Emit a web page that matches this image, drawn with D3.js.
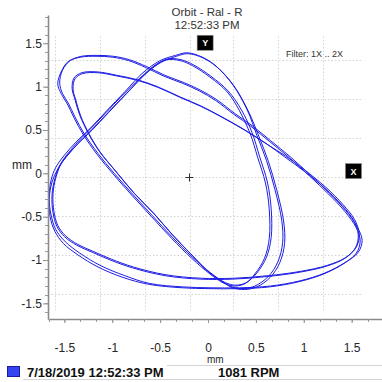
<!DOCTYPE html>
<html><head><meta charset="utf-8">
<script src="https://cdn.jsdelivr.net/npm/d3@7"></script>
<style>
html,body{margin:0;padding:0;background:#fff;}
svg{display:block;font-family:"Liberation Sans",Arial,sans-serif;}
</style></head><body>
<svg id="chart" width="382" height="382"></svg>
<script>
// ---- chart content -------------------------------------------------------
const titleLines = ["Orbit - Ral - R", "12:52:33 PM"];
const filterText = "Filter: 1X .. 2X";
const axisUnit = "mm";
const xTicks = [-1.5, -1, -0.5, 0, 0.5, 1, 1.5];
const yTicks = [-1.5, -1, -0.5, 0, 0.5, 1, 1.5];
const xTickLabels = ["-1.5", "-1", "-0.5", "0", "0.5", "1", "1.5"];
const yTickLabels = ["-1.5", "-1", "-0.5", "0", "0.5", "1", "1.5"];
const legendDate = "7/18/2019 12:52:33 PM";
const legendSpeed = "1081 RPM";

// probe markers (mm) and orbit centre cross (mm)
const probeLabels = ["Y", "X"];
const probeX = [-0.03, 1.52];
const probeY = [1.5, 0.02];
const centreX = -0.2;
const centreY = -0.04;

// reference grid around the orbit centre (mm)
const gridX = [-1.60, -1.13, -0.66, -0.19, 0.265, 0.735, 1.205];
const gridY = [1.307, 0.863, 0.413, -0.043, -0.492, -0.942, -1.392];

// filtered orbit samples (mm), four consecutive revolutions
const revAX = [-1.55,-1.52,-1.44,-1.32,-1.16,-0.99,-0.82,-0.64,-0.45,-0.26,
  -0.08,0.09,0.28,0.46,0.65,0.86,1.07,1.27,1.44,1.56,
  1.61,1.57,1.43,1.22,0.96,0.65,0.33,0.02,-0.26,-0.61,
  -0.87,-1.13,-1.34,-1.49,-1.59,-1.64,-1.66,-1.64,-1.59,-1.50,
  -1.38,-1.23,-1.06,-0.87,-0.68,-0.50,-0.34,-0.22,-0.06,0.09,
  0.26,0.41,0.51,0.61,0.70,0.77,0.78,0.73,0.63,0.49,
  0.37,0.25,0.14,0.00,-0.18,-0.38,-0.57,-0.78,-0.97,-1.14,
  -1.25,-1.34,-1.39,-1.42,-1.40,-1.32,-1.16,-0.95,-0.74,-0.53,
  -0.29,-0.08,0.13,0.37,0.60];
const revAY = [1.04,1.19,1.30,1.35,1.36,1.35,1.31,1.23,1.13,1.05,
  0.96,0.85,0.69,0.55,0.38,0.19,-0.02,-0.23,-0.43,-0.62,
  -0.77,-0.91,-1.03,-1.15,-1.24,-1.30,-1.32,-1.32,-1.31,-1.27,
  -1.18,-1.06,-0.92,-0.79,-0.65,-0.48,-0.28,-0.08,0.07,0.21,
  0.36,0.52,0.72,0.94,1.16,1.30,1.36,1.39,1.34,1.23,
  1.02,0.73,0.44,0.15,-0.19,-0.54,-0.80,-1.02,-1.19,-1.30,
  -1.33,-1.31,-1.24,-1.13,-0.93,-0.70,-0.46,-0.22,0.03,0.26,
  0.46,0.67,0.85,0.98,1.10,1.16,1.17,1.13,1.08,1.00,
  0.88,0.78,0.66,0.51,0.35];
const revBX = [0.80,1.01,1.22,1.40,1.52,1.57,1.54,1.43,1.24,0.96,
  0.62,0.26,-0.08,-0.45,-0.79,-1.02,-1.21,-1.37,-1.50,-1.58,
  -1.62,-1.63,-1.60,-1.54,-1.44,-1.32,-1.16,-0.99,-0.84,-0.68,
  -0.55,-0.43,-0.29,-0.16,0.02,0.20,0.33,0.44,0.52,0.60,
  0.64,0.64,0.59,0.49,0.39,0.28,0.17,0.02,-0.17,-0.38,
  -0.59,-0.79,-0.99,-1.16,-1.30,-1.40,-1.47,-1.53];
const revBY = [0.19,0.02,-0.17,-0.37,-0.54,-0.71,-0.86,-0.98,-1.07,-1.14,
  -1.19,-1.22,-1.22,-1.18,-1.09,-1.00,-0.91,-0.83,-0.73,-0.61,
  -0.45,-0.25,-0.06,0.11,0.26,0.41,0.59,0.79,0.96,1.13,
  1.25,1.31,1.30,1.24,1.11,0.94,0.72,0.46,0.18,-0.11,
  -0.42,-0.75,-0.98,-1.16,-1.27,-1.30,-1.27,-1.16,-0.98,-0.75,
  -0.50,-0.26,-0.01,0.22,0.44,0.64,0.80,0.91];
const revCX = [-1.57,-1.53,-1.46,-1.33,-1.17,-1.00,-0.83,-0.65,-0.46,-0.27,
  -0.09,0.08,0.27,0.45,0.64,0.85,1.06,1.26,1.43,1.55,
  1.59,1.55,1.42,1.21,0.95,0.64,0.32,0.01,-0.27,-0.62,
  -0.89,-1.15,-1.36,-1.51,-1.60,-1.65,-1.66,-1.63,-1.57,-1.48,
  -1.36,-1.21,-1.04,-0.85,-0.66,-0.49,-0.33,-0.21,-0.05,0.10,
  0.27,0.42,0.53,0.63,0.72,0.79,0.80,0.75,0.65,0.51,
  0.38,0.26,0.15,0.01,-0.17,-0.37,-0.56,-0.77,-0.96,-1.13,
  -1.24,-1.33,-1.38,-1.41,-1.39,-1.31,-1.15,-0.94,-0.73,-0.52,
  -0.28,-0.07,0.14,0.38,0.61];
const revCY = [1.03,1.18,1.29,1.34,1.35,1.34,1.30,1.22,1.12,1.04,
  0.95,0.84,0.68,0.54,0.37,0.18,-0.03,-0.24,-0.44,-0.63,
  -0.78,-0.92,-1.04,-1.16,-1.25,-1.31,-1.33,-1.33,-1.32,-1.28,
  -1.20,-1.08,-0.94,-0.81,-0.67,-0.50,-0.30,-0.10,0.05,0.19,
  0.34,0.50,0.70,0.92,1.14,1.28,1.35,1.38,1.33,1.22,
  1.01,0.72,0.43,0.14,-0.20,-0.55,-0.81,-1.03,-1.20,-1.31,
  -1.34,-1.32,-1.25,-1.14,-0.94,-0.71,-0.47,-0.23,0.02,0.25,
  0.45,0.66,0.84,0.97,1.09,1.15,1.16,1.12,1.07,0.99,
  0.87,0.77,0.65,0.50,0.34];
const revDX = [0.81,1.02,1.23,1.41,1.53,1.58,1.55,1.44,1.25,0.97,
  0.63,0.27,-0.07,-0.44,-0.78,-1.01,-1.20,-1.36,-1.49,-1.57,
  -1.61,-1.62,-1.59,-1.53,-1.42,-1.29,-1.13,-0.96,-0.81,-0.66,
  -0.53,-0.42,-0.28,-0.15,0.03,0.21,0.35,0.46,0.54,0.62,
  0.66,0.66,0.61,0.51,0.40,0.29,0.18,0.03,-0.16,-0.37,
  -0.58,-0.78,-0.98,-1.15,-1.29,-1.39,-1.46,-1.52];
const revDY = [0.20,0.03,-0.16,-0.36,-0.53,-0.70,-0.85,-0.97,-1.06,-1.13,
  -1.18,-1.21,-1.21,-1.17,-1.08,-0.99,-0.90,-0.82,-0.72,-0.60,
  -0.44,-0.24,-0.05,0.12,0.27,0.42,0.60,0.80,0.97,1.14,
  1.26,1.32,1.31,1.25,1.12,0.95,0.73,0.47,0.19,-0.10,
  -0.41,-0.74,-0.97,-1.15,-1.26,-1.29,-1.26,-1.15,-0.97,-0.74,
  -0.49,-0.25,0.00,0.23,0.45,0.65,0.81,0.92];

// ---- drawing -------------------------------------------------------------
const svg = d3.select("#chart");
const plot = {left: 48, right: 382, top: 15, bottom: 319};

const x = d3.scaleLinear().domain([-1.672, 1.818]).range([plot.left, plot.right]);
const y = d3.scaleLinear().domain([-1.68, 1.826]).range([plot.bottom, plot.top]);

const inkDark = "#262626";
const orbitBlue = "#1c1ce6";

// title
svg.selectAll("text.title").data(titleLines).join("text")
  .attr("class", "title")
  .attr("x", 207).attr("y", (d, i) => 16 + i * 13)
  .attr("text-anchor", "middle")
  .attr("font-size", 11.5).attr("fill", "#333")
  .text(d => d);

// dotted reference grid
const grid = svg.append("g").attr("stroke", "#d2d2d2").attr("stroke-width", 1)
  .attr("stroke-dasharray", "1.5,2");
grid.selectAll("line.v").data(gridX).join("line").attr("class", "v")
  .attr("x1", d => Math.round(x(d)) + 0.5).attr("x2", d => Math.round(x(d)) + 0.5)
  .attr("y1", y(1.58)).attr("y2", y(-1.58));
grid.selectAll("line.h").data(gridY).join("line").attr("class", "h")
  .attr("y1", d => Math.round(y(d)) + 0.5).attr("y2", d => Math.round(y(d)) + 0.5)
  .attr("x1", plot.left).attr("x2", x(1.62));

// filter note
svg.append("text").attr("x", 286).attr("y", 57)
  .attr("font-size", 9).attr("fill", "#333").text(filterText);

// orbit trace (all revolutions joined, closed)
const orbitXs = [].concat(revAX, revBX, revCX, revDX);
const orbitYs = [].concat(revAY, revBY, revCY, revDY);
const orbitLine = d3.line()
  .x(i => x(orbitXs[i])).y(i => y(orbitYs[i]))
  .curve(d3.curveCatmullRomClosed.alpha(0.5));
svg.append("path")
  .attr("d", orbitLine(d3.range(orbitXs.length)))
  .attr("fill", "none").attr("stroke", orbitBlue).attr("stroke-width", 1);

// centre cross
const cx = Math.round(x(centreX)) + 0.5, cy = Math.round(y(centreY)) + 0.5;
svg.append("path").attr("d", `M${cx - 4},${cy}H${cx + 4}M${cx},${cy - 4}V${cy + 4}`)
  .attr("stroke", "#333").attr("stroke-width", 1);

// probe markers
const probes = svg.selectAll("g.probe").data(probeLabels).join("g").attr("class", "probe")
  .attr("transform", (d, i) => `translate(${x(probeX[i])},${y(probeY[i])})`);
probes.append("rect").attr("x", -8).attr("y", -8).attr("width", 16).attr("height", 15)
  .attr("fill", "#000").attr("stroke", "#888").attr("stroke-width", 0.6);
probes.append("text").attr("text-anchor", "middle").attr("y", 3)
  .attr("font-size", 9).attr("font-weight", "bold").attr("fill", "#fff").text(d => d);

// axes
const yAxis = d3.axisLeft(y).tickValues(yTicks).tickSize(5).tickSizeOuter(0).tickPadding(1)
  .tickFormat((d, i) => yTickLabels[i]);
const xAxis = d3.axisBottom(x).tickValues(xTicks).tickSize(4).tickSizeOuter(0).tickPadding(20)
  .tickFormat((d, i) => xTickLabels[i]);

const gy = svg.append("g").attr("transform", `translate(${plot.left},0)`).call(yAxis);
const gx = svg.append("g").attr("transform", `translate(0,${plot.bottom})`).call(xAxis);
[gx, gy].forEach(g => {
  g.select(".domain").attr("stroke", "#8a8a8a").attr("stroke-width", 1.6);
  g.selectAll(".tick line").attr("stroke", "#8a8a8a");
  g.selectAll(".tick text").attr("font-size", 12).attr("fill", inkDark)
    .attr("font-family", "Liberation Sans, Arial, sans-serif");
});

// minor ticks
const yMinor = d3.range(-16, 19).map(k => k / 10);
svg.append("g").selectAll("line").data(yMinor).join("line")
  .attr("x1", plot.left - 3).attr("x2", plot.left)
  .attr("y1", d => Math.round(y(d)) + 0.5).attr("y2", d => Math.round(y(d)) + 0.5)
  .attr("stroke", "#9a9a9a");
const xMinor = d3.range(-10, 11).map(k => k / 6);
svg.append("g").selectAll("line").data(xMinor).join("line")
  .attr("y1", plot.bottom).attr("y2", plot.bottom + 3)
  .attr("x1", d => Math.round(x(d)) + 0.5).attr("x2", d => Math.round(x(d)) + 0.5)
  .attr("stroke", "#9a9a9a");

// axis units
svg.append("text").attr("x", 12).attr("y", 169).attr("font-size", 12).attr("fill", inkDark).text(axisUnit);
svg.append("text").attr("x", 207).attr("y", 363).attr("font-size", 10).attr("fill", inkDark).text(axisUnit);

// legend row
const legend = svg.append("g");
legend.append("line").attr("x1", 167).attr("x2", 382).attr("y1", 365.5).attr("y2", 365.5).attr("stroke", "#d4d4d4");
legend.append("line").attr("x1", 23).attr("x2", 382).attr("y1", 379.5).attr("y2", 379.5).attr("stroke", "#d4d4d4");
legend.append("rect").attr("x", 7.5).attr("y", 366.5).attr("width", 12).attr("height", 10)
  .attr("fill", "#3344f0").attr("stroke", "#1a1a9a");
legend.append("text").attr("x", 27).attr("y", 377).attr("font-size", 13).attr("font-weight", "bold")
  .attr("fill", "#111").text(legendDate);
legend.append("text").attr("x", 218).attr("y", 377).attr("font-size", 13).attr("font-weight", "bold")
  .attr("fill", "#111").text(legendSpeed);
</script>
</body></html>
